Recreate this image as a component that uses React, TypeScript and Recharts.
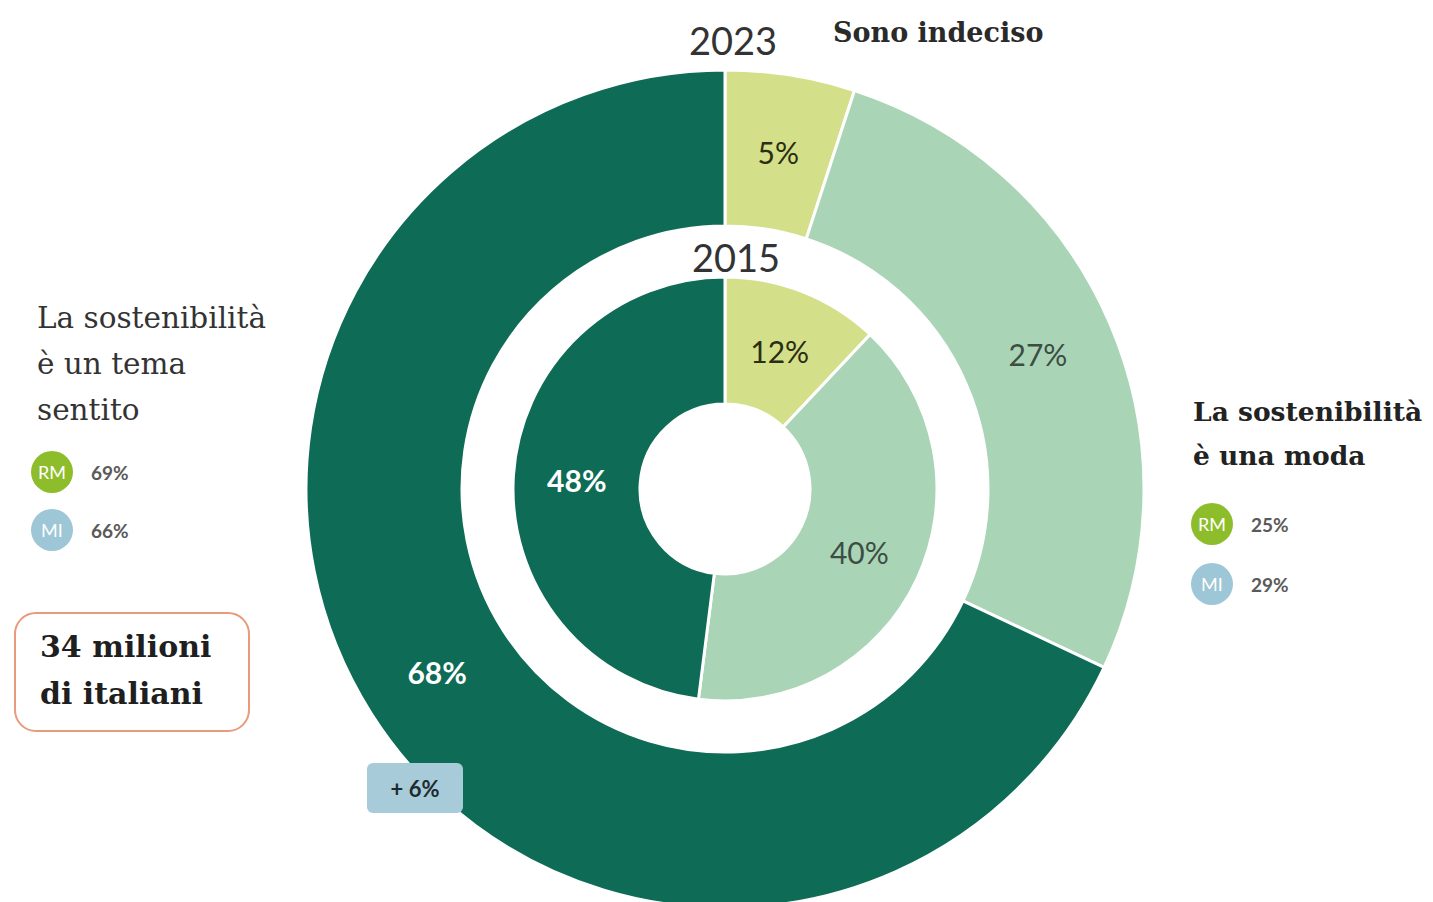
import { PieChart, Pie, Cell } from 'recharts';

const categories = ['Sono indeciso', 'La sostenibilità è una moda', 'La sostenibilità è un tema sentito'];
const values2023 = [5, 27, 68];
const values2015 = [12, 40, 48];
const cities = ['RM', 'MI'];
const sentitoByCity = [69, 66];
const modaByCity = [25, 29];
const deltaLabel = '+ 6%';
const totalNote = ['34 milioni', 'di italiani'];

const sliceColors = ['#d4df8a', '#a9d5b6', '#0e6b55'];
const labelColors = ['#2b2e12', '#3d4d44', '#ffffff'];
const cityColors = ['#8ebd2c', '#9dc6d6'];

const outer = categories.map((name, i) => ({ name, value: values2023[i] }));
const inner = categories.map((name, i) => ({ name, value: values2015[i] }));

const RADIAN = Math.PI / 180;

const renderLabel = (props: any) => {
  const { cx, cy, midAngle, innerRadius, outerRadius, value, index } = props;
  const r = (innerRadius + outerRadius) / 2;
  const x = cx + r * Math.cos(-midAngle * RADIAN);
  const y = cy + r * Math.sin(-midAngle * RADIAN);
  return (
    <text
      x={x}
      y={y}
      fill={labelColors[index]}
      textAnchor="middle"
      dominantBaseline="central"
      fontFamily="Lato, 'Open Sans', sans-serif"
      fontSize={30}
      fontWeight={index === 2 ? 700 : 400}
    >
      {value}%
    </text>
  );
};

const serif = "'DejaVu Serif', 'Liberation Serif', serif";
const sans = "Lato, 'Open Sans', sans-serif";

const CityRow = ({ x, y, city, pct, color }: any) => (
  <div style={{ position: 'absolute', left: x, top: y, display: 'flex', alignItems: 'center' }}>
    <div
      style={{
        width: 42,
        height: 42,
        borderRadius: 21,
        background: color,
        color: '#fff',
        fontFamily: sans,
        fontSize: 18,
        display: 'flex',
        alignItems: 'center',
        justifyContent: 'center',
      }}
    >
      {city}
    </div>
    <span style={{ marginLeft: 18, fontFamily: sans, fontSize: 19, fontWeight: 700, color: '#5a5a5a' }}>{pct}%</span>
  </div>
);

export default function App() {
  return (
    <div style={{ position: 'absolute', left: 0, top: 0, width: 1433, height: 902, background: '#fff', overflow: 'hidden' }}>
      <PieChart width={1433} height={902}>
        <Pie
          data={outer}
          dataKey="value"
          cx={720}
          cy={484}
          innerRadius={263}
          outerRadius={419}
          startAngle={90}
          endAngle={-270}
          stroke="#ffffff"
          strokeWidth={3}
          label={renderLabel}
          labelLine={false}
          isAnimationActive={false}
        >
          {outer.map((d, i) => (
            <Cell key={`o-${d.name}`} fill={sliceColors[i]} />
          ))}
        </Pie>
        <Pie
          data={inner}
          dataKey="value"
          cx={720}
          cy={484}
          innerRadius={85}
          outerRadius={212}
          startAngle={90}
          endAngle={-270}
          stroke="#ffffff"
          strokeWidth={3}
          label={renderLabel}
          labelLine={false}
          isAnimationActive={false}
        >
          {inner.map((d, i) => (
            <Cell key={`i-${d.name}`} fill={sliceColors[i]} />
          ))}
        </Pie>
      </PieChart>

      <div style={{ position: 'absolute', left: 689, top: 16, fontFamily: sans, fontSize: 38, color: '#333', lineHeight: '48px' }}>2023</div>
      <div style={{ position: 'absolute', left: 692, top: 233, fontFamily: sans, fontSize: 38, color: '#333', lineHeight: '48px' }}>2015</div>

      <div style={{ position: 'absolute', left: 833, top: 17, fontFamily: serif, fontSize: 27, fontWeight: 700, color: '#2a2a2a' }}>
        {categories[0]}
      </div>

      <div style={{ position: 'absolute', left: 37, top: 295, width: 290, fontFamily: serif, fontSize: 29.5, lineHeight: '46px', color: '#333' }}>
        La sostenibilità<br />è un tema<br />sentito
      </div>
      {cities.map((c, i) => (
        <CityRow key={`l-${c}`} x={31} y={451 + i * 58} city={c} pct={sentitoByCity[i]} color={cityColors[i]} />
      ))}

      <div style={{ position: 'absolute', left: 1193, top: 390, width: 260, fontFamily: serif, fontSize: 26.5, fontWeight: 700, lineHeight: '44px', color: '#222' }}>
        La sostenibilità<br />è una moda
      </div>
      {cities.map((c, i) => (
        <CityRow key={`r-${c}`} x={1191} y={503 + i * 60} city={c} pct={modaByCity[i]} color={cityColors[i]} />
      ))}

      <div
        style={{
          position: 'absolute',
          left: 14,
          top: 612,
          width: 232,
          height: 116,
          border: '2px solid #e89a7d',
          borderRadius: 22,
          boxSizing: 'content-box',
          fontFamily: serif,
          fontSize: 30,
          fontWeight: 700,
          lineHeight: '47px',
          color: '#1f1f1f',
        }}
      >
        <div style={{ paddingLeft: 24, paddingTop: 9 }}>
          {totalNote[0]}
          <br />
          {totalNote[1]}
        </div>
      </div>

      <div
        style={{
          position: 'absolute',
          left: 367,
          top: 763,
          width: 96,
          height: 50,
          background: '#a7cbd9',
          borderRadius: 6,
          display: 'flex',
          alignItems: 'center',
          justifyContent: 'center',
          fontFamily: sans,
          fontSize: 22,
          fontWeight: 700,
          color: '#1d2a2e',
        }}
      >
        {deltaLabel}
      </div>
    </div>
  );
}
